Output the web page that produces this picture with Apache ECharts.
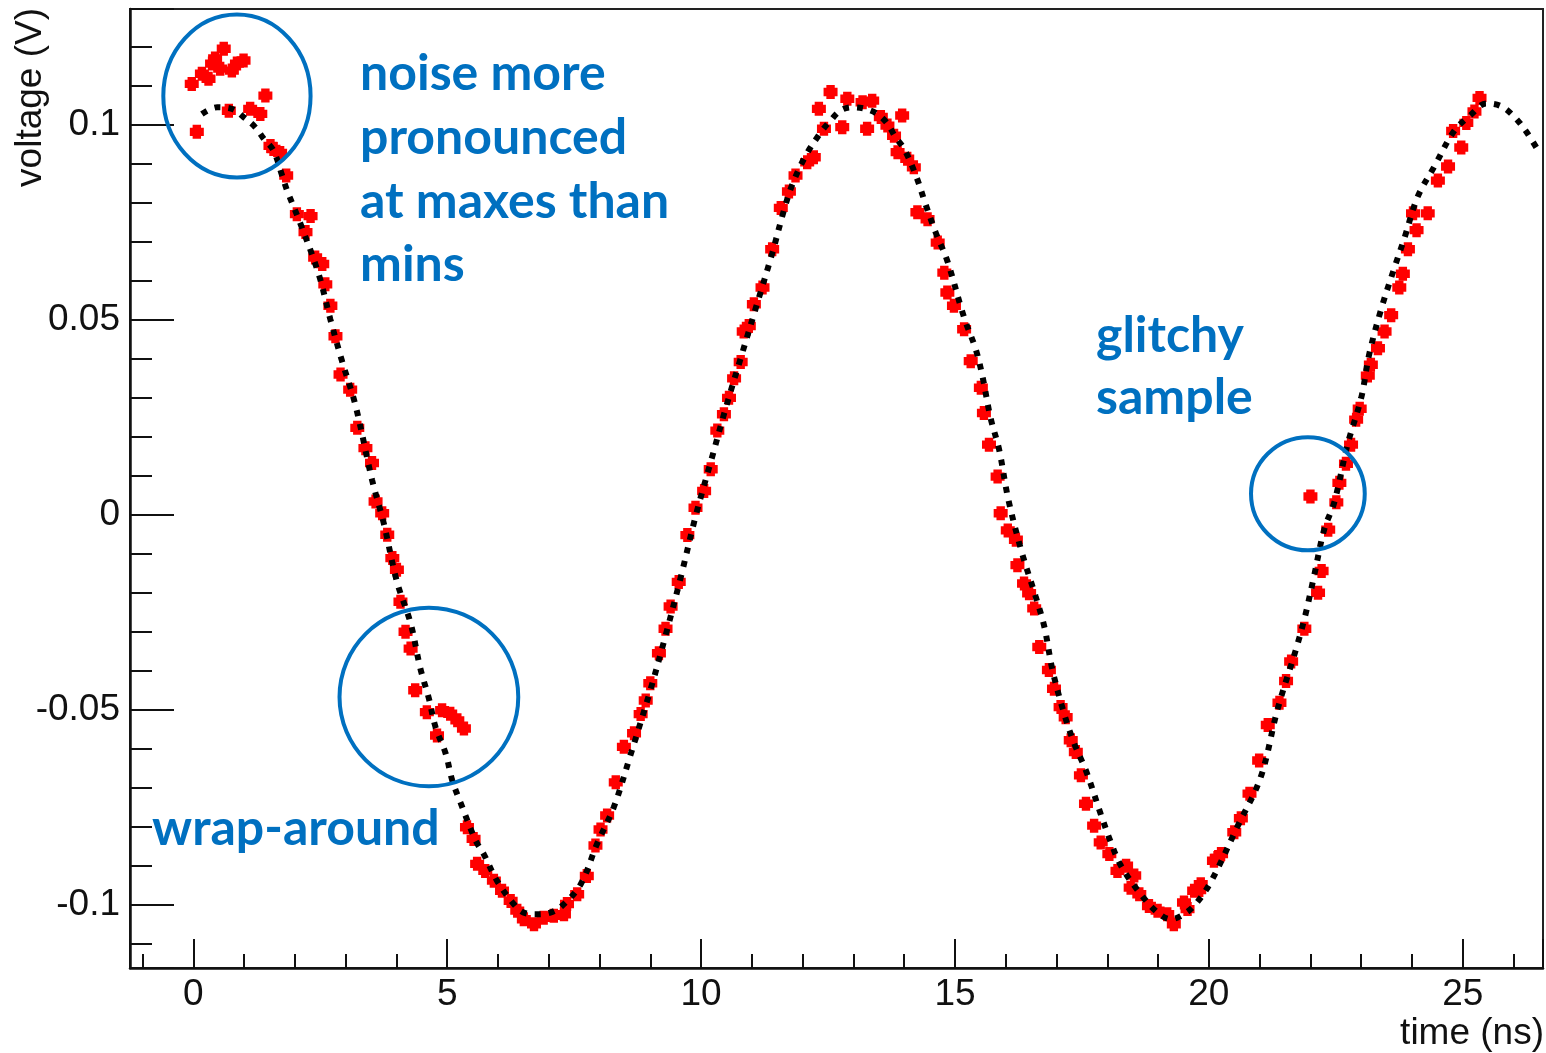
<!DOCTYPE html>
<html>
<head>
<meta charset="utf-8">
<title>Sampled waveform vs fit</title>
<script src="https://cdn.jsdelivr.net/npm/echarts@6/dist/echarts.min.js"></script>
<style>
  html, body { margin: 0; padding: 0; background: #ffffff; }
  #chart { width: 1546px; height: 1053px; }
</style>
</head>
<body>
<div id="chart"></div>
<script>
// Digitizer samples (time in ns, voltage in V)
const sampleTime = [
  -0.03, 0.07, 0.17, 0.30, 0.37, 0.43, 0.53, 0.60, 0.70, 0.76, 0.86, 0.99, 1.12, 1.32, 1.42,
  1.52, 1.58, 1.71, 1.83, 2.04, 2.21, 2.31, 2.40, 2.54, 2.60, 2.70, 2.80, 2.90, 3.09, 3.23,
  3.39, 3.52, 3.59, 3.72, 3.82, 3.92, 4.01, 4.08, 4.18, 4.28, 4.37, 4.60, 4.80, 4.90, 5.06,
  5.20, 5.33, 5.39, 5.52, 5.59, 5.75, 5.92, 6.08, 6.25, 6.38, 6.51, 6.71, 6.90, 7.10, 7.30,
  7.36, 7.56, 7.75, 7.92, 8.02, 8.15, 8.32, 8.48, 8.68, 8.81, 8.91, 9.00, 9.17, 9.30, 9.40,
  9.56, 9.73, 9.89, 10.06, 10.19, 10.32, 10.45, 10.55, 10.65, 10.78, 10.84, 10.94, 11.04, 11.21, 11.40,
  11.57, 11.73, 11.86, 12.09, 12.22, 12.32, 12.42, 12.55, 12.78, 12.88, 13.18, 13.27, 13.37, 13.54, 13.67,
  13.80, 13.87, 13.96, 14.06, 14.19, 14.26, 14.46, 14.66, 14.79, 14.85, 14.98, 15.18, 15.31, 15.51, 15.57,
  15.67, 15.84, 15.90, 16.04, 16.20, 16.23, 16.36, 16.46, 16.56, 16.66, 16.85, 16.95, 17.08, 17.18, 17.28,
  17.38, 17.48, 17.58, 17.74, 17.87, 18.04, 18.20, 18.37, 18.46, 18.53, 18.63, 18.82, 18.99, 19.18, 19.31,
  19.51, 19.58, 19.71, 19.81, 19.84, 20.10, 20.17, 20.24, 20.50, 20.63, 20.80, 20.99, 21.16, 21.39, 21.52,
  21.62, 21.88, 22.00, 22.15, 22.22, 22.35, 22.51, 22.57, 22.70, 22.80, 22.90, 22.97, 23.13, 23.19, 23.33,
  23.46, 23.59, 23.75, 23.82, 23.92, 24.02, 24.09, 24.31, 24.51, 24.71, 24.81, 24.97, 25.07, 25.23, 25.33
];
const sampleVolt = [
  0.1105, 0.0982, 0.1131, 0.1118, 0.1157, 0.1170, 0.1144, 0.1195, 0.1036, 0.1139, 0.1157, 0.1165, 0.1041, 0.1028, 0.1075,
  0.0946, 0.0938, 0.0928, 0.0870, 0.0771, 0.0725, 0.0766, 0.0660, 0.0643, 0.0591, 0.0536, 0.0458, 0.0360, 0.0321, 0.0223,
  0.0171, 0.0133, 0.0034, 0.0004, -0.0051, -0.0111, -0.0141, -0.0223, -0.0300, -0.0343, -0.0450, -0.0506, -0.0566, -0.0501, -0.0510,
  -0.0527, -0.0548, -0.0801, -0.0831, -0.0895, -0.0913, -0.0938, -0.0964, -0.0990, -0.1015, -0.1037, -0.1050, -0.1033, -0.1028, -0.1024,
  -0.0998, -0.0973, -0.0926, -0.0848, -0.0807, -0.0771, -0.0686, -0.0595, -0.0560, -0.0511, -0.0476, -0.0432, -0.0355, -0.0292, -0.0235,
  -0.0172, -0.0052, 0.0018, 0.0061, 0.0117, 0.0216, 0.0258, 0.0300, 0.0350, 0.0392, 0.0470, 0.0484, 0.0540, 0.0583, 0.0681,
  0.0787, 0.0829, 0.0870, 0.0904, 0.0917, 0.1041, 0.0990, 0.1084, 0.0994, 0.1067, 0.1058, 0.0990, 0.1062, 0.1020, 0.0998,
  0.0972, 0.0930, 0.1024, 0.0913, 0.0891, 0.0776, 0.0758, 0.0698, 0.0621, 0.0570, 0.0536, 0.0476, 0.0394, 0.0326, 0.0261,
  0.0180, 0.0098, 0.0004, -0.0040, -0.0064, -0.0129, -0.0176, -0.0201, -0.0240, -0.0339, -0.0398, -0.0446, -0.0493, -0.0519, -0.0578,
  -0.0608, -0.0668, -0.0741, -0.0797, -0.0840, -0.0870, -0.0913, -0.0900, -0.0956, -0.0925, -0.0973, -0.1003, -0.1015, -0.1024, -0.1050,
  -0.0994, -0.1011, -0.0964, -0.0962, -0.0947, -0.0887, -0.0880, -0.0870, -0.0814, -0.0778, -0.0715, -0.0630, -0.0539, -0.0482, -0.0426,
  -0.0376, -0.0292, 0.0047, -0.0200, -0.0144, -0.0038, 0.0032, 0.0082, 0.0131, 0.0180, 0.0244, 0.0272, 0.0357, 0.0385, 0.0427,
  0.0470, 0.0512, 0.0583, 0.0618, 0.0681, 0.0773, 0.0730, 0.0773, 0.0857, 0.0893, 0.0984, 0.0942, 0.1005, 0.1034, 0.1069
];

// Fitted waveform
const fitTime = [
  0.17, 0.47, 0.76, 0.99, 1.22, 1.39, 1.58, 1.75, 1.85, 2.10, 2.47, 2.70, 2.93, 3.19, 3.52,
  3.75, 4.01, 4.28, 4.47, 4.64, 4.77, 4.97, 5.10, 5.26, 5.56, 5.72, 5.98, 6.31, 6.51, 6.77,
  7.03, 7.26, 7.63, 7.95, 8.28, 8.60, 9.00, 9.30, 9.60, 9.90, 10.20, 10.50, 10.80, 11.10, 11.40,
  11.63, 11.80, 12.06, 12.36, 12.55, 12.75, 12.98, 13.24, 13.47, 13.67, 13.83, 14.00, 14.23, 14.42, 14.62,
  14.85, 15.18, 15.41, 15.54, 15.70, 15.87, 16.05, 16.32, 16.59, 16.76, 16.92, 17.15, 17.35, 17.58, 17.87,
  18.07, 18.27, 18.63, 18.99, 19.25, 19.51, 19.74, 20.04, 20.56, 21.02, 21.35, 21.74, 21.90, 22.07, 22.27,
  22.47, 22.73, 23.00, 23.16, 23.39, 23.65, 23.85, 24.11, 24.44, 24.83, 25.16, 25.46, 25.75, 26.02, 26.28,
  26.51
];
const fitVolt = [
  0.1028, 0.1045, 0.1041, 0.1020, 0.0994, 0.0964, 0.0934, 0.0870, 0.0831, 0.0750, 0.0617, 0.0501, 0.0394, 0.0283, 0.0090,
  -0.0021, -0.0171, -0.0278, -0.0393, -0.0471, -0.0544, -0.0612, -0.0681, -0.0737, -0.0835, -0.0870, -0.0938, -0.0998, -0.1020, -0.1024,
  -0.1020, -0.1003, -0.0947, -0.0844, -0.0750, -0.0620, -0.0450, -0.0310, -0.0160, 0.0000, 0.0140, 0.0280, 0.0410, 0.0540, 0.0670,
  0.0780, 0.0848, 0.0921, 0.0981, 0.1011, 0.1037, 0.1045, 0.1041, 0.1028, 0.1003, 0.0968, 0.0938, 0.0870, 0.0797, 0.0724,
  0.0651, 0.0506, 0.0424, 0.0356, 0.0249, 0.0167, 0.0040, -0.0098, -0.0210, -0.0287, -0.0398, -0.0510, -0.0587, -0.0656, -0.0767,
  -0.0840, -0.0900, -0.0968, -0.1020, -0.1037, -0.1024, -0.0998, -0.0941, -0.0800, -0.0673, -0.0500, -0.0334, -0.0257, -0.0158, -0.0038,
  0.0032, 0.0180, 0.0300, 0.0413, 0.0526, 0.0632, 0.0709, 0.0815, 0.0893, 0.0984, 0.1026, 0.1055, 0.1048, 0.1020, 0.0977,
  0.0928
];

// Highlighted regions: centre (ns, V) and half-extent (ns, V)
const regionCenterT = [0.86, 4.64, 21.95];
const regionCenterV = [0.1074, -0.0467, 0.0054];
const regionHalfT = [1.45, 1.76, 1.12];
const regionHalfV = [0.0209, 0.0229, 0.0145];

// Annotation texts
const noteNoise = ['noise more', 'pronounced', 'at maxes than', 'mins'];
const noteGlitch = ['glitchy', 'sample'];
const noteWrap = ['wrap-around'];

const xRange = [-1.246, 26.58];
const yRange = [-0.1162, 0.1297];

const samples = sampleTime.map((t, i) => [t, sampleVolt[i]]);
const fit = fitTime.map((t, i) => [t, fitVolt[i]]);
const regions = regionCenterT.map((t, i) => [t, regionCenterV[i], regionHalfT[i], regionHalfV[i]]);

const BLUE = '#0070C0';
const INK = '#111111';
const axisFont = 'Liberation Sans, Arial, Helvetica, sans-serif';
const noteFont = 'Lato, "Open Sans", sans-serif';

function noteLines(lines, x, y0, step) {
  return lines.map((s, i) => ({
    type: 'text',
    x: x,
    y: y0 + i * step,
    z: 100,
    style: {
      text: s,
      fill: BLUE,
      font: 'bold 50px ' + noteFont,
      align: 'left',
      verticalAlign: 'middle'
    }
  }));
}

const chart = echarts.init(document.getElementById('chart'), null, { renderer: 'canvas' });

chart.setOption({
  animation: false,
  backgroundColor: '#ffffff',
  grid: {
    left: 130, top: 9, right: 3, bottom: 85,
    show: true,
    borderColor: '#222222',
    borderWidth: 2,
    backgroundColor: 'transparent'
  },
  xAxis: {
    type: 'value',
    min: xRange[0],
    max: xRange[1],
    splitNumber: 5,
    axisLine: { show: true, onZero: false, lineStyle: { color: INK, width: 2.5 } },
    axisTick: { show: true, inside: true, length: 29, lineStyle: { color: INK, width: 2 } },
    minorTick: { show: true, splitNumber: 5, length: 14, lineStyle: { color: INK, width: 2 } },
    splitLine: { show: false },
    minorSplitLine: { show: false },
    axisLabel: {
      show: true,
      margin: 8,
      showMinLabel: false,
      showMaxLabel: false,
      color: INK,
      fontFamily: axisFont,
      fontSize: 37
    }
  },
  yAxis: {
    type: 'value',
    min: yRange[0],
    max: yRange[1],
    splitNumber: 5,
    axisLine: { show: true, onZero: false, lineStyle: { color: INK, width: 2.5 } },
    axisTick: { show: true, inside: true, length: 44, lineStyle: { color: INK, width: 2 } },
    minorTick: { show: true, splitNumber: 5, length: 22, lineStyle: { color: INK, width: 2 } },
    splitLine: { show: false },
    minorSplitLine: { show: false },
    axisLabel: {
      show: true,
      margin: 10,
      showMinLabel: false,
      showMaxLabel: false,
      color: INK,
      fontFamily: axisFont,
      fontSize: 37
    }
  },
  series: [
    {
      name: 'samples',
      type: 'scatter',
      data: samples,
      symbol: 'path://M2,0H8V2H10V8H8V10H2V8H0V2H2Z',
      symbolSize: 14,
      itemStyle: { color: '#ff0000', opacity: 1 },
      z: 3
    },
    {
      name: 'fit',
      type: 'line',
      data: fit,
      smooth: 0.35,
      showSymbol: false,
      symbol: 'none',
      lineStyle: { color: '#000000', width: 6, type: [6, 8], cap: 'butt', opacity: 1 },
      z: 4
    },
    {
      name: 'regions',
      type: 'custom',
      data: regions,
      z: 5,
      clip: false,
      renderItem: function (params, api) {
        const c = api.coord([api.value(0), api.value(1)]);
        const s = api.size([api.value(2), api.value(3)]);
        return {
          type: 'ellipse',
          shape: { cx: c[0], cy: c[1], rx: s[0], ry: s[1] },
          style: { fill: 'none', stroke: BLUE, lineWidth: 4 }
        };
      }
    }
  ],
  graphic: [
    {
      type: 'text',
      x: 31,
      y: 8,
      rotation: Math.PI / 2,
      style: {
        text: 'voltage (V)',
        fill: INK,
        font: '37px ' + axisFont,
        align: 'right',
        verticalAlign: 'middle'
      }
    },
    {
      type: 'text',
      x: 1544,
      y: 1034,
      style: {
        text: 'time (ns)',
        fill: INK,
        font: '37px ' + axisFont,
        align: 'right',
        verticalAlign: 'middle'
      }
    }
  ]
    .concat(noteLines(noteNoise, 360, 74, 63.7))
    .concat(noteLines(noteGlitch, 1096, 336, 62))
    .concat(noteLines(noteWrap, 152, 829, 62))
});
</script>
</body>
</html>
